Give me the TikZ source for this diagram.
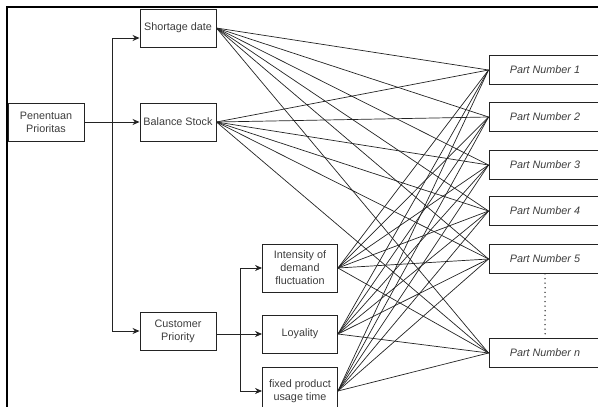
\documentclass[tikz,border=0pt]{standalone}
\usepackage{fontspec}
\setmainfont{Liberation Sans}
\usetikzlibrary{arrows.meta,positioning}
\definecolor{ink}{RGB}{35,35,35}
\definecolor{soft}{RGB}{60,60,60}
\tikzset{
  >={Stealth[length=7pt,width=6pt]},
  crit/.style={draw=ink,line width=0.9pt,minimum width=76pt,minimum height=38pt,
    align=center,font=\fontsize{10.8}{13}\selectfont,text=soft,inner sep=1pt},
  part/.style={draw=ink,line width=0.9pt,minimum width=112pt,minimum height=29pt,
    font=\fontsize{10.8}{13}\selectfont\itshape,text=soft},
  link/.style={draw=ink,line width=0.7pt},
  flow/.style={->,draw=ink,line width=0.9pt},
}
\begin{document}
\begin{tikzpicture}[x=1pt,y=-1pt]
  \useasboundingbox (0,0) rectangle (598,407);
  % page frame
  \draw[black,line width=1.8pt] (6,7) -- (598,7);
  \draw[black,line width=1.8pt] (7,7) -- (7,407);
  % criteria
  \node[crit] (pp) at (46,122) {Penentuan\\Prioritas};
  \node[crit] (sd) at (178,28) {Shortage date};
  \node[crit] (bs) at (178,122) {Balance Stock};
  \node[crit] (cp) at (178,331) {Customer\\Priority};
  \node[crit,minimum width=75pt,minimum height=48pt] (idf) at (300,268) {Intensity of\\demand\\fluctuation};
  \node[crit,minimum width=75pt] (loy) at (300,334) {Loyality};
  \node[crit,minimum width=75pt,minimum height=48pt] (fpu) at (300,391) {fixed product\\usage time};
  % alternatives
  \foreach \t/\y [count=\i] in {1/70,2/117,3/165,4/211,5/259,n/353}
    \node[part] (pn\i) at (545,\y) {Part Number \t};
  \draw[ink,line width=1.5pt,line cap=round,dash pattern=on 0pt off 4.6pt] (pn5.south) -- (pn6.north);
  % tree
  \coordinate (fork) at (112,122);
  \coordinate (split) at (240,334);
  \draw[flow] (pp) -- (bs);
  \draw[flow] (fork) |- ([yshift=-10pt]sd.west);
  \draw[flow] (fork) |- (cp.west);
  \draw[flow] (cp.east |- loy) -- (loy.west);
  \draw[flow] (split) |- (idf.west);
  \draw[flow] (split) |- (fpu.west);
  % every criterion to every part
  \foreach \s in {sd,bs,idf,loy,fpu}
    \foreach \i in {1,...,6}
      \draw[link] (\s.east) -- (pn\i.west);
\end{tikzpicture}
\end{document}
